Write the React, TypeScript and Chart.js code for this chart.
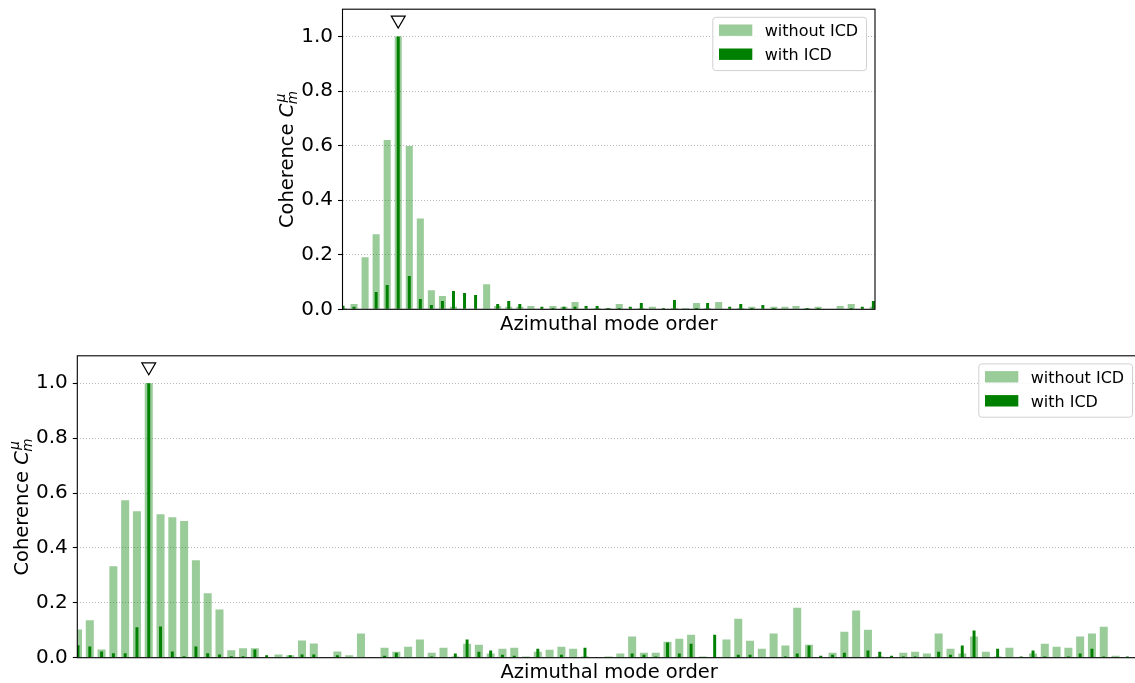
import React, { useEffect, useRef } from "react";
import { Chart, registerables } from "chart.js";

Chart.register(...registerables);

// ---------- data ----------
const seriesLabels = ["without ICD", "with ICD"];
const xAxisTitle = "Azimuthal mode order";
const yAxisTitle = "Coherence ";
const yTickValues = [0, 0.2, 0.4, 0.6, 0.8, 1.0];

const topWithout = [
  0.005, 0.019, 0.191, 0.275, 0.621, 1.0, 0.599, 0.333, 0.07, 0.049,
  0.009, 0.0, 0.0, 0.092, 0.012, 0.009, 0.009, 0.012, 0.0, 0.012,
  0.009, 0.027, 0.0, 0.005, 0.005, 0.019, 0.0, 0.005, 0.009, 0.0,
  0.005, 0.005, 0.023, 0.005, 0.027, 0.0, 0.005, 0.009, 0.0, 0.009,
  0.009, 0.012, 0.005, 0.009, 0.0, 0.012, 0.019, 0.0, 0.009,
];
const topWith = [
  0.013, 0.009, 0.0, 0.063, 0.089, 1.0, 0.122, 0.038, 0.016, 0.03,
  0.067, 0.06, 0.052, 0.0, 0.019, 0.03, 0.019, 0.0, 0.009, 0.005,
  0.009, 0.009, 0.012, 0.012, 0.005, 0.005, 0.009, 0.023, 0.0, 0.005,
  0.034, 0.0, 0.005, 0.023, 0.0, 0.009, 0.019, 0.005, 0.016, 0.005,
  0.0, 0.0, 0.005, 0.005, 0.0, 0.0, 0.005, 0.009, 0.03,
];
const bottomWithout = [
  0.103, 0.136, 0.03, 0.333, 0.574, 0.534, 1.0, 0.523, 0.512, 0.498,
  0.355, 0.235, 0.176, 0.027, 0.034, 0.034, 0.0, 0.012, 0.009, 0.063,
  0.052, 0.0, 0.023, 0.009, 0.088, 0.0, 0.036, 0.022, 0.04, 0.066,
  0.018, 0.036, 0.004, 0.051, 0.047, 0.015, 0.033, 0.036, 0.004, 0.022,
  0.029, 0.04, 0.033, 0.004, 0.001, 0.004, 0.015, 0.077, 0.018, 0.018,
  0.058, 0.069, 0.084, 0.004, 0.0, 0.066, 0.142, 0.062, 0.033, 0.088,
  0.044, 0.182, 0.047, 0.0, 0.018, 0.095, 0.172, 0.102, 0.004, 0.0,
  0.018, 0.022, 0.015, 0.088, 0.033, 0.015, 0.077, 0.022, 0.004, 0.036,
  0.0, 0.015, 0.051, 0.04, 0.036, 0.077, 0.088, 0.113, 0.007, 0.0,
];
const bottomWith = [
  0.045, 0.041, 0.023, 0.016, 0.016, 0.111, 1.0, 0.114, 0.023, 0.005,
  0.041, 0.016, 0.012, 0.005, 0.005, 0.03, 0.009, 0.001, 0.009, 0.012,
  0.012, 0.001, 0.009, 0.001, 0.0, 0.001, 0.007, 0.018, 0.001, 0.001,
  0.004, 0.001, 0.015, 0.066, 0.022, 0.026, 0.011, 0.007, 0.001, 0.033,
  0.001, 0.011, 0.001, 0.036, 0.001, 0.001, 0.001, 0.015, 0.011, 0.004,
  0.055, 0.015, 0.051, 0.001, 0.084, 0.001, 0.011, 0.011, 0.001, 0.001,
  0.004, 0.015, 0.044, 0.007, 0.011, 0.018, 0.001, 0.026, 0.022, 0.007,
  0.004, 0.004, 0.001, 0.022, 0.011, 0.044, 0.099, 0.001, 0.033, 0.001,
  0.004, 0.026, 0.004, 0.001, 0.004, 0.015, 0.033, 0.004, 0.001, 0.004,
];
const topPeakIndex = 5;
const bottomPeakIndex = 6;
const peakMarkerLevel = 1.06;

// ---------- styles ----------
const LIGHT = "rgba(0,128,0,0.4)";
const DARK = "#008000";
const FONT = '"DejaVu Sans"';
const LABEL_SIZE = 19.5;

type PanelOpts = {
  without: number[];
  withv: number[];
  peak: number;
  xMin: number;
  xMax: number;
  padding: { left: number; right: number; top: number; bottom: number };
  lightPct: number;
  darkPct: number;
};

const framePlugin = {
  id: "frame",
  afterDraw(chart: any) {
    const ctx = chart.ctx as CanvasRenderingContext2D;
    const a = chart.chartArea;
    ctx.save();
    // axes box
    ctx.strokeStyle = "#000";
    ctx.lineWidth = 1.1;
    ctx.strokeRect(a.left, a.top, a.right - a.left, a.bottom - a.top);

    // x label
    ctx.fillStyle = "#000";
    ctx.font = `${LABEL_SIZE}px ${FONT}`;
    ctx.textAlign = "center";
    ctx.textBaseline = "alphabetic";
    ctx.fillText(xAxisTitle, (a.left + a.right) / 2, a.bottom + 20.5);

    // y label (rotated, with math C_m^mu)
    const fs = LABEL_SIZE;
    const fReg = `${fs}px ${FONT}`;
    const fIt = `italic ${fs}px ${FONT}`;
    const fSm = `italic ${fs * 0.7}px ${FONT}`;
    ctx.font = fReg;
    const w1 = ctx.measureText(yAxisTitle).width;
    ctx.font = fIt;
    const w2 = ctx.measureText("C").width;
    ctx.font = fSm;
    const w3 = Math.max(ctx.measureText("μ").width, ctx.measureText("m").width);
    const total = w1 + w2 + w3;
    ctx.translate(a.left - 49.8, (a.top + a.bottom) / 2);
    ctx.rotate(-Math.PI / 2);
    ctx.textAlign = "left";
    const x0 = -total / 2;
    ctx.font = fReg;
    ctx.fillText(yAxisTitle, x0, 0);
    ctx.font = fIt;
    ctx.fillText("C", x0 + w1, 0);
    ctx.font = fSm;
    ctx.fillText("μ", x0 + w1 + w2 + 1.5, -fs * 0.42);
    ctx.fillText("m", x0 + w1 + w2 - 0.5, fs * 0.22);
    ctx.restore();

    // legend
    ctx.save();
    const bw = 153.7;
    const bh = 53.3;
    const bx = a.right - 9 - bw;
    const by = a.top + 7.6;
    ctx.beginPath();
    (ctx as any).roundRect(bx + 0.5, by + 0.5, bw, bh, 3);
    ctx.fillStyle = "rgba(255,255,255,0.8)";
    ctx.fill();
    ctx.strokeStyle = "#d0d0d0";
    ctx.lineWidth = 1;
    ctx.stroke();
    const colors = [LIGHT, DARK];
    ctx.font = `16px ${FONT}`;
    ctx.textAlign = "left";
    ctx.textBaseline = "alphabetic";
    seriesLabels.forEach((lab, i) => {
      const py = by + 7.7 + i * 24;
      ctx.fillStyle = colors[i];
      ctx.fillRect(bx + 6.7, py, 33.3, 11.4);
      ctx.fillStyle = "#000";
      ctx.fillText(lab, bx + 52.4, py + 11.7);
    });
    ctx.restore();
  },
};

function makeConfig(o: PanelOpts): any {
  return {
    type: "bar",
    data: {
      datasets: [
        {
          type: "scatter",
          label: "peak",
          data: [{ x: o.peak, y: peakMarkerLevel }],
          pointStyle: "triangle",
          rotation: 180,
          radius: 8,
          borderColor: "#000",
          borderWidth: 1.2,
          backgroundColor: "rgba(0,0,0,0)",
          order: -1,
          clip: false,
        },
        {
          label: seriesLabels[1],
          data: o.withv.map((v, i) => ({ x: i, y: v })),
          backgroundColor: DARK,
          grouped: false,
          categoryPercentage: 1,
          barPercentage: o.darkPct,
          borderWidth: 0,
          order: 0,
          clip: 0,
        },
        {
          label: seriesLabels[0],
          data: o.without.map((v, i) => ({ x: i, y: v })),
          backgroundColor: LIGHT,
          grouped: false,
          categoryPercentage: 1,
          barPercentage: o.lightPct,
          borderWidth: 0,
          order: 1,
          clip: 0,
        },
      ],
    },
    options: {
      responsive: false,
      animation: false,
      devicePixelRatio: 1,
      events: [],
      layout: { padding: o.padding },
      plugins: { legend: { display: false }, tooltip: { enabled: false } },
      scales: {
        x: {
          type: "linear",
          min: o.xMin,
          max: o.xMax,
          offset: false,
          display: false,
        },
        y: {
          min: 0,
          max: 1.1,
          afterBuildTicks: (s: any) => {
            s.ticks = yTickValues.map((v) => ({ value: v }));
          },
          afterFit: (s: any) => {
            s.width = 60;
            s.paddingTop = 0;
            s.paddingBottom = 0;
          },
          ticks: {
            callback: (v: any) => Number(v).toFixed(1),
            font: { family: "DejaVu Sans", size: 20 },
            color: "#000",
            padding: 5,
          },
          grid: {
            color: "#b8b8b8",
            lineWidth: 1,
            tickColor: "#000",
            tickLength: 4.5,
            tickWidth: 1.1,
            tickBorderDash: [],
          },
          border: { display: false, dash: [1, 2] },
        },
      },
    },
    plugins: [framePlugin],
  };
}

function Panel(props: { o: PanelOpts; left: number; top: number; width: number; height: number }) {
  const ref = useRef<HTMLCanvasElement | null>(null);
  useEffect(() => {
    if (!ref.current) return;
    const chart = new Chart(ref.current, makeConfig(props.o));
    return () => chart.destroy();
  }, []);
  return (
    <canvas
      ref={ref}
      width={props.width}
      height={props.height}
      style={{
        position: "absolute",
        left: props.left,
        top: props.top,
        width: props.width,
        height: props.height,
      }}
    />
  );
}

export default function App() {
  const topOpts: PanelOpts = {
    without: topWithout,
    withv: topWith,
    peak: topPeakIndex,
    xMin: -0.045,
    xMax: 48.15,
    padding: { left: 282.5, right: 260, top: 7.8, bottom: 30.7 },
    lightPct: 0.64,
    darkPct: 0.27,
  };
  const bottomOpts: PanelOpts = {
    without: bottomWithout,
    withv: bottomWith,
    peak: bottomPeakIndex,
    xMin: -0.06,
    xMax: 90.16,
    padding: { left: 17.3, right: 69, top: 15.8, bottom: 25.3 },
    lightPct: 0.68,
    darkPct: 0.25,
  };
  return (
    <div
      style={{
        position: "fixed",
        left: 0,
        top: 0,
        width: 1135,
        height: 683,
        overflow: "hidden",
        background: "#fff",
      }}
    >
      <Panel o={topOpts} left={0} top={0} width={1135} height={340} />
      <Panel o={bottomOpts} left={0} top={340} width={1210} height={343} />
    </div>
  );
}
